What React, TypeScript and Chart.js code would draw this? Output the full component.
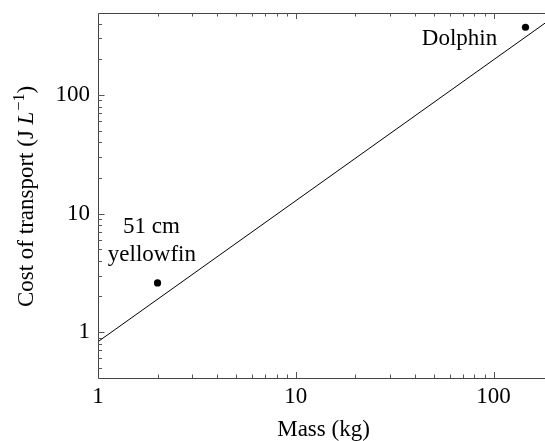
import React, { useEffect, useRef } from 'react';
import { Chart, registerables } from 'chart.js';

Chart.register(...registerables);

// ---- data ----
const POINT_NAMES = ['51 cm|yellowfin', 'Dolphin'];
const POINT_MASS = [2, 145];
const POINT_COST = [2.6, 373];
const FIT_MASS = [1, 182];
const FIT_COST = [0.83, 404];
const X_RANGE = [1, 182];
const Y_RANGE = [0.41, 492];
const X_TICK_LABELS = [1, 10, 100];
const Y_TICK_LABELS = [1, 10, 100];
const X_TITLE = 'Mass (kg)';
const Y_TITLE_PARTS = ['Cost of transport (J ', 'L', '\u22121', ')'];

const FONT = "'Liberation Serif'";

function logTickValues(min: number, max: number) {
  const vals: { v: number; major: boolean }[] = [];
  const e0 = Math.floor(Math.log10(min));
  const e1 = Math.ceil(Math.log10(max));
  for (let e = e0; e <= e1; e++) {
    for (let m = 1; m <= 9; m++) {
      const v = m * Math.pow(10, e);
      if (v >= min * 0.9999 && v <= max * 1.0001) vals.push({ v, major: m === 1 });
    }
  }
  return vals;
}

const framePlugin = {
  id: 'frameTicks',
  afterDatasetsDraw(chart: any) {
    const { ctx, chartArea } = chart;
    const xs = chart.scales.x;
    const ys = chart.scales.y;
    const { left, right, top, bottom } = chartArea;
    ctx.save();
    ctx.strokeStyle = '#444';
    ctx.lineWidth = 1;
    ctx.beginPath();
    ctx.moveTo(Math.round(left) + 0.5, Math.round(top) + 0.5);
    ctx.lineTo(right + 2, Math.round(top) + 0.5);
    ctx.moveTo(Math.round(left) + 0.5, Math.round(top) + 0.5);
    ctx.lineTo(Math.round(left) + 0.5, Math.round(bottom) + 0.5);
    ctx.lineTo(right + 2, Math.round(bottom) + 0.5);
    ctx.stroke();

    ctx.strokeStyle = '#555';
    ctx.beginPath();
    for (const t of logTickValues(xs.min, xs.max)) {
      const px = Math.round(xs.getPixelForValue(t.v)) + 0.5;
      if (px < left + 1 || px > right - 1) continue;
      const len = t.major ? 6 : 3.5;
      ctx.moveTo(px, bottom);
      ctx.lineTo(px, bottom - len);
      ctx.moveTo(px, top);
      ctx.lineTo(px, top + len);
    }
    for (const t of logTickValues(ys.min, ys.max)) {
      const py = Math.round(ys.getPixelForValue(t.v)) + 0.5;
      if (py < top + 1 || py > bottom - 1) continue;
      const len = t.major ? 6.5 : 4;
      ctx.moveTo(left, py);
      ctx.lineTo(left + len, py);
    }
    ctx.stroke();
    ctx.restore();
  },
};

const labelPlugin = {
  id: 'pointLabels',
  afterDatasetsDraw(chart: any) {
    const { ctx } = chart;
    const meta = chart.getDatasetMeta(1);
    ctx.save();
    ctx.fillStyle = '#000';
    ctx.font = `23px ${FONT}`;
    ctx.textAlign = 'center';
    ctx.textBaseline = 'alphabetic';
    meta.data.forEach((el: any, i: number) => {
      const lines = POINT_NAMES[i].split('|');
      if (lines.length === 2) {
        ctx.fillText(lines[0], el.x - 6, el.y - 50);
        ctx.fillText(lines[1], el.x - 5.6, el.y - 21.6);
      } else {
        ctx.fillText(lines[0], el.x - 66, el.y + 17.3);
      }
    });
    ctx.restore();
  },
};

const titlePlugin = {
  id: 'axisTitles',
  afterDraw(chart: any) {
    const { ctx, chartArea } = chart;
    ctx.save();
    ctx.fillStyle = '#000';
    ctx.font = `23px ${FONT}`;
    ctx.textAlign = 'center';
    ctx.textBaseline = 'alphabetic';
    ctx.fillText(X_TITLE, (chartArea.left + chartArea.right) / 2 + 2, 436);

    const fonts = [`23px ${FONT}`, `italic 23px ${FONT}`, `16px ${FONT}`, `23px ${FONT}`];
    const rise = [0, 0, -9, 0];
    const widths = Y_TITLE_PARTS.map((p, i) => {
      ctx.font = fonts[i];
      return ctx.measureText(p).width;
    });
    const total = widths.reduce((a, b) => a + b, 0);
    ctx.translate(25, 197);
    ctx.rotate(-Math.PI / 2);
    ctx.textAlign = 'left';
    let x = -total / 2;
    Y_TITLE_PARTS.forEach((p, i) => {
      ctx.font = fonts[i];
      ctx.fillText(p, x, 8 + rise[i]);
      x += widths[i] + (i === 1 ? 1 : 0);
    });
    ctx.restore();
  },
};

function hasLabel(list: number[], v: number) {
  return list.some((t) => Math.abs(t - v) < 1e-9 * Math.max(1, t));
}

function zeroPad(s: any) {
  s.paddingLeft = 0;
  s.paddingRight = 0;
  s.paddingTop = 0;
  s.paddingBottom = 0;
}

export default function App() {
  const canvasRef = useRef<HTMLCanvasElement | null>(null);

  useEffect(() => {
    const canvas = canvasRef.current;
    if (!canvas) return;
    const chart = new Chart(canvas, {
      type: 'scatter',
      data: {
        datasets: [
          {
            label: 'fit',
            data: FIT_MASS.map((m, i) => ({ x: m, y: FIT_COST[i] })),
            showLine: true,
            borderColor: '#000',
            borderWidth: 1,
            pointRadius: 0,
            pointHoverRadius: 0,
            fill: false,
          },
          {
            label: 'species',
            data: POINT_MASS.map((m, i) => ({ x: m, y: POINT_COST[i] })),
            showLine: false,
            pointRadius: 3.6,
            backgroundColor: '#000',
            borderColor: '#000',
            borderWidth: 0,
          },
        ],
      },
      options: {
        responsive: false,
        animation: false,
        devicePixelRatio: 1,
        layout: { autoPadding: false, padding: { top: 13, right: 0, left: 0, bottom: 0 } },
        plugins: {
          legend: { display: false },
          tooltip: { enabled: false },
          title: { display: false },
        },
        scales: {
          x: {
            type: 'logarithmic',
            min: X_RANGE[0],
            max: X_RANGE[1],
            grid: { display: false, drawTicks: false },
            border: { display: false },
            afterFit: (s: any) => {
              s.height = 63;
              zeroPad(s);
            },
            ticks: {
              autoSkip: false,
              maxRotation: 0,
              minRotation: 0,
              padding: 5,
              color: '#000',
              font: { family: FONT, size: 23 },
              callback: (v: any) => (hasLabel(X_TICK_LABELS, Number(v)) ? String(Number(v)) : ''),
            },
          },
          y: {
            type: 'logarithmic',
            min: Y_RANGE[0],
            max: Y_RANGE[1],
            grid: { display: false, drawTicks: false },
            border: { display: false },
            afterFit: (s: any) => {
              s.width = 98;
              zeroPad(s);
            },
            ticks: {
              autoSkip: false,
              padding: 8,
              color: '#000',
              font: { family: FONT, size: 23 },
              callback: (v: any) => (hasLabel(Y_TICK_LABELS, Number(v)) ? String(Number(v)) : ''),
            },
          },
        },
      } as any,
      plugins: [framePlugin, labelPlugin, titlePlugin],
    });
    return () => chart.destroy();
  }, []);

  return (
    <div style={{ position: 'fixed', left: 0, top: 0, width: 545, height: 441, background: '#fff' }}>
      <canvas ref={canvasRef} width={545} height={441} style={{ display: 'block' }} />
    </div>
  );
}
